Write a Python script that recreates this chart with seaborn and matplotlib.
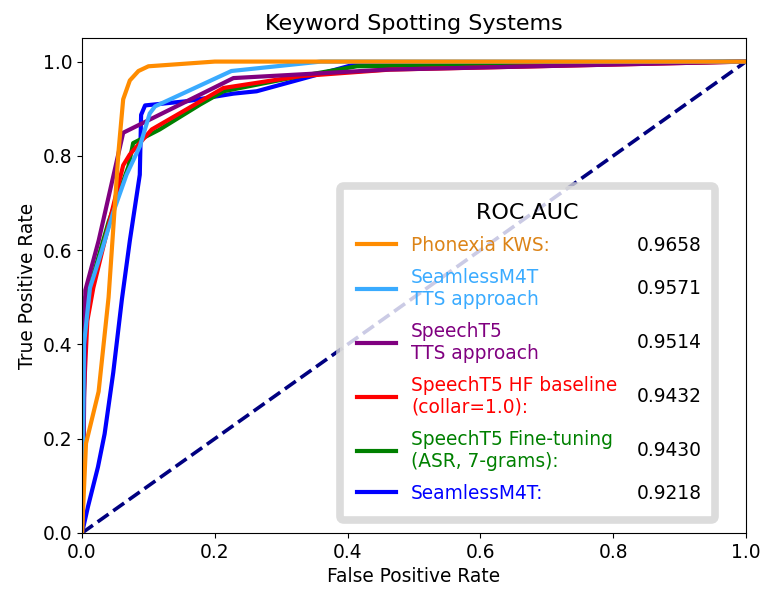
import matplotlib
matplotlib.use("Agg")
import matplotlib.pyplot as plt
import seaborn as sns
import pandas as pd

# ---- data ----
names = ["Phonexia KWS:", "SeamlessM4T\nTTS approach", "SpeechT5\nTTS approach",
         "SpeechT5 HF baseline\n(collar=1.0):", "SpeechT5 Fine-tuning\n(ASR, 7-grams):",
         "SeamlessM4T:"]
aucs = ["0.9658", "0.9571", "0.9514", "0.9432", "0.9430", "0.9218"]
colors = ["darkorange", "#3aabff", "purple", "red", "green", "blue"]
text_colors = ["#dc8418", "#3aabff", "purple", "red", "green", "blue"]

fpr_phonexia = [0.0, 0.006, 0.025, 0.04, 0.055, 0.062, 0.072, 0.085, 0.1, 0.2, 1.0]
tpr_phonexia = [0.0, 0.19, 0.30, 0.50, 0.81, 0.92, 0.96, 0.98, 0.99, 1.0, 1.0]

fpr_seam_tts = [0.0, 0.003, 0.012, 0.03, 0.047, 0.067, 0.087, 0.102, 0.11, 0.225, 0.36, 1.0]
tpr_seam_tts = [0.0, 0.40, 0.52, 0.60, 0.68, 0.76, 0.82, 0.89, 0.905, 0.98, 1.0, 1.0]

fpr_t5_tts = [0.0, 0.002, 0.005, 0.025, 0.062, 0.178, 0.228, 0.46, 1.0]
tpr_t5_tts = [0.0, 0.13, 0.515, 0.62, 0.849, 0.93, 0.965, 0.983, 1.0]

fpr_t5_hf = [0.0, 0.003, 0.008, 0.017, 0.062, 0.072, 0.105, 0.148, 0.213, 0.328, 0.464, 1.0]
tpr_t5_hf = [0.0, 0.30, 0.45, 0.52, 0.78, 0.803, 0.856, 0.891, 0.944, 0.969, 0.983, 1.0]

fpr_t5_ft = [0.0, 0.005, 0.012, 0.04, 0.07, 0.077, 0.117, 0.178, 0.213, 0.328, 0.414, 1.0]
tpr_t5_ft = [0.0, 0.50, 0.523, 0.66, 0.778, 0.827, 0.856, 0.909, 0.937, 0.969, 0.99, 1.0]

fpr_seam = [0.0, 0.009, 0.024, 0.034, 0.047, 0.06, 0.072, 0.087, 0.089, 0.095, 0.158, 0.228, 0.263, 0.328, 0.408, 0.46, 1.0]
tpr_seam = [0.0, 0.056, 0.14, 0.21, 0.34, 0.495, 0.62, 0.76, 0.887, 0.907, 0.916, 0.932, 0.937, 0.962, 0.993, 0.997, 1.0]

chance_x = [0.0, 1.0]
chance_y = [0.0, 1.0]

curves = [(fpr_phonexia, tpr_phonexia), (fpr_seam_tts, tpr_seam_tts), (fpr_t5_tts, tpr_t5_tts),
          (fpr_t5_hf, tpr_t5_hf), (fpr_t5_ft, tpr_t5_ft), (fpr_seam, tpr_seam)]

FS = 13.4

fig = plt.figure(figsize=(7.63, 5.92), dpi=100)
ax = fig.add_axes([0.1075, 0.0997, 0.8702, 0.8361])

handles = [None] * len(curves)
# draw in reverse so the best curve ends on top
for i in reversed(range(len(curves))):
    x, y = curves[i]
    df = pd.DataFrame({"fpr": x, "tpr": y})
    sns.lineplot(data=df, x="fpr", y="tpr", sort=False, estimator=None,
                 color=colors[i], lw=3, ax=ax)
    handles[i] = ax.lines[-1]

sns.lineplot(x=chance_x, y=chance_y, color="navy", lw=2.6, linestyle="--", ax=ax)
ax.lines[-1].set_zorder(1.5)

ax.set_xlim(0.0, 1.0)
ax.set_ylim(0.0, 1.05)
ax.set_xlabel("False Positive Rate", fontsize=FS)
ax.set_ylabel("True Positive Rate", fontsize=FS)
ax.set_title("Keyword Spotting Systems", fontsize=16)
ax.tick_params(labelsize=FS)

leg = ax.legend(handles, names, title="ROC AUC", loc="upper left",
                bbox_to_anchor=(0.389, 0.701, 0.564, 0.0), mode="expand",
                borderaxespad=0.0, fontsize=FS, title_fontsize=16,
                labelspacing=0.7, borderpad=0.9, handlelength=2.1, fancybox=True)
frame = leg.get_frame()
frame.set_edgecolor("#d4d4d4")
frame.set_linewidth(5.5)
for t, c in zip(leg.get_texts(), text_colors):
    t.set_color(c)
for lh in leg.get_lines():
    lh.set_linewidth(3)

fig.canvas.draw()
renderer = fig.canvas.get_renderer()
fb = frame.get_window_extent(renderer)
inv = fig.transFigure.inverted()
for t, val in zip(leg.get_texts(), aucs):
    bb = t.get_window_extent(renderer)
    xf, yf = inv.transform((fb.x1 - 13, (bb.y0 + bb.y1) / 2))
    fig.text(xf, yf, val, ha="right", va="center", fontsize=FS, color="black")

fig.savefig("out.png", dpi=100)
